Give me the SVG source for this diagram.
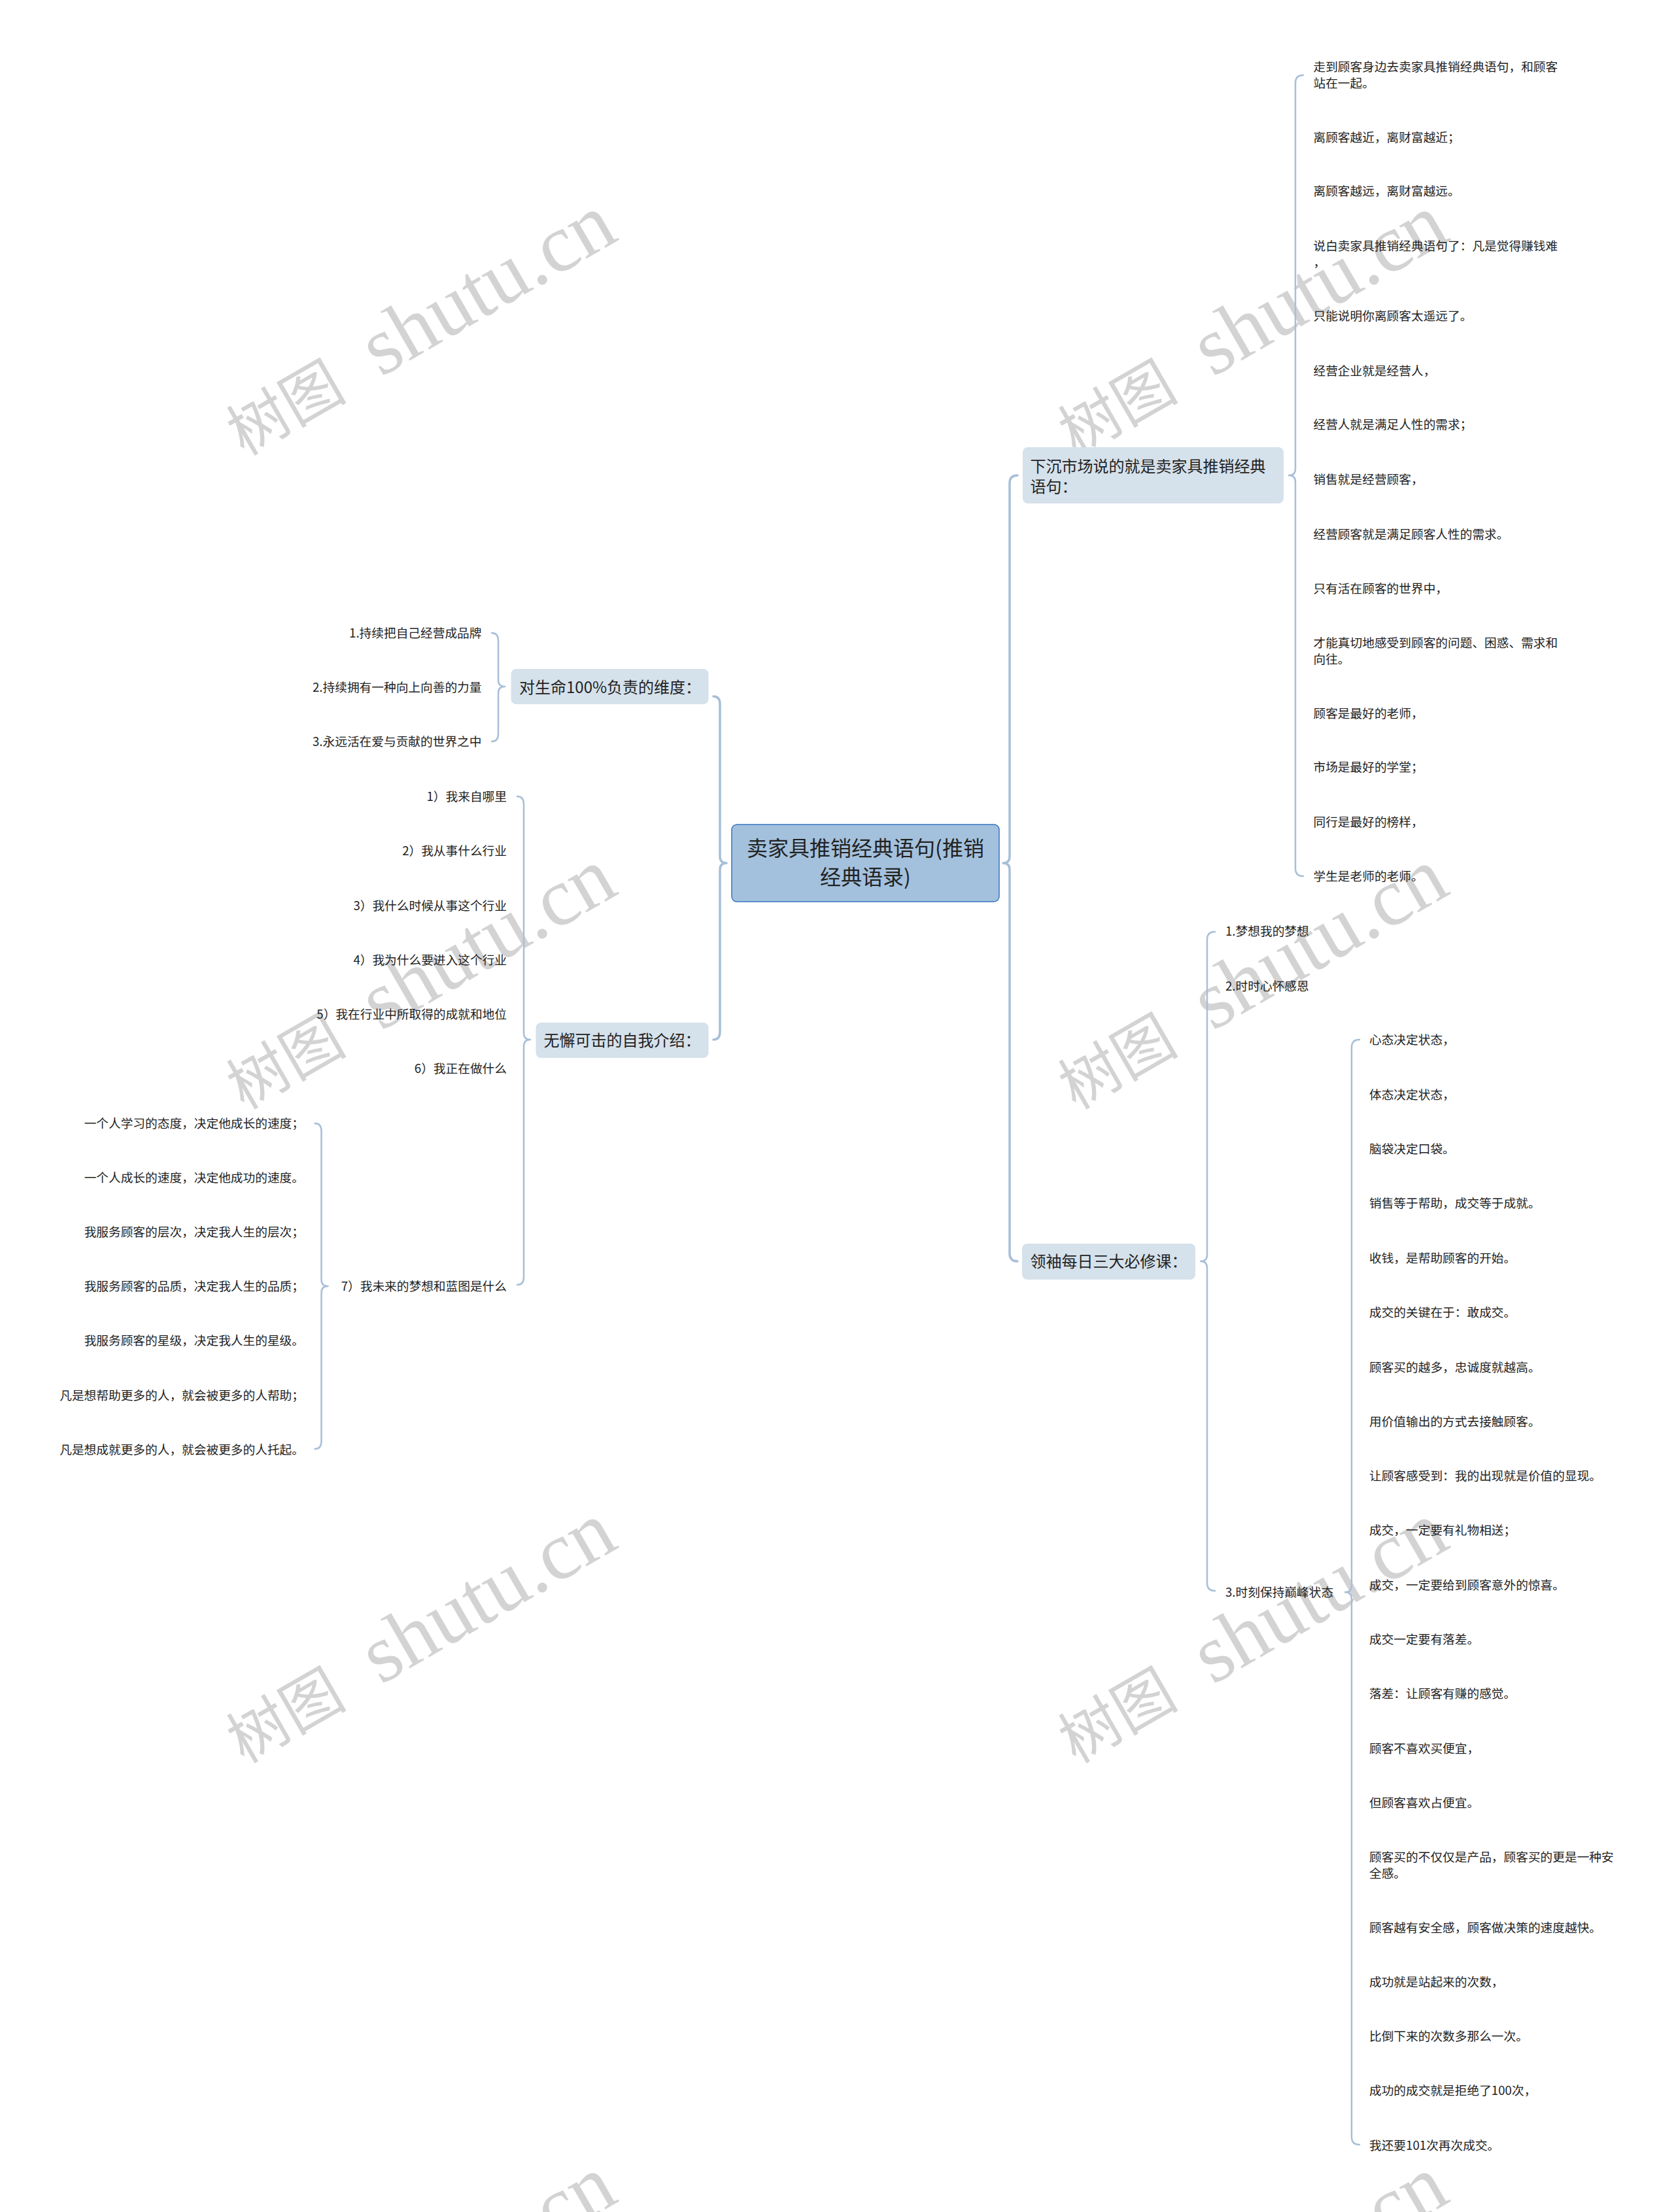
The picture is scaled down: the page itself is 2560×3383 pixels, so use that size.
<svg xmlns="http://www.w3.org/2000/svg" width="2560" height="3383" viewBox="0 0 2560 3383">
<style>
.wm { font-family: "Liberation Serif", "Noto Sans CJK SC", serif; fill: #d3d3d3; }
.t { font-family: "Noto Sans CJK SC", "Noto Sans", sans-serif; fill: #222222; }
.leaf { font-size: 18.7px; }
.main { font-size: 24px; }
.center { font-size: 32px; text-anchor: middle; }
.end { text-anchor: end; }
.conn { fill: none; stroke: #a7bfd8; stroke-linecap: round; stroke-linejoin: round; }
.c1 { stroke-width: 3.5; }
.c2 { stroke-width: 2.5; }
.box { fill: #d5e1eb; }
.cbox { fill: #a3c1dd; stroke: #3a74c0; stroke-width: 1.5; }
</style>
<rect width="2560" height="3383" fill="#ffffff"/>

<g id="watermark">
<text class="wm" transform="translate(373,698) rotate(-30)"><tspan font-size="92">树图</tspan><tspan font-size="126" dx="26"> shutu.cn</tspan></text>
<text class="wm" transform="translate(1645,698) rotate(-30)"><tspan font-size="92">树图</tspan><tspan font-size="126" dx="26"> shutu.cn</tspan></text>
<text class="wm" transform="translate(373,1698) rotate(-30)"><tspan font-size="92">树图</tspan><tspan font-size="126" dx="26"> shutu.cn</tspan></text>
<text class="wm" transform="translate(1645,1698) rotate(-30)"><tspan font-size="92">树图</tspan><tspan font-size="126" dx="26"> shutu.cn</tspan></text>
<text class="wm" transform="translate(373,2698) rotate(-30)"><tspan font-size="92">树图</tspan><tspan font-size="126" dx="26"> shutu.cn</tspan></text>
<text class="wm" transform="translate(1645,2698) rotate(-30)"><tspan font-size="92">树图</tspan><tspan font-size="126" dx="26"> shutu.cn</tspan></text>
<text class="wm" transform="translate(373,3698) rotate(-30)"><tspan font-size="92">树图</tspan><tspan font-size="126" dx="26"> shutu.cn</tspan></text>
<text class="wm" transform="translate(1645,3698) rotate(-30)"><tspan font-size="92">树图</tspan><tspan font-size="126" dx="26"> shutu.cn</tspan></text>
</g>

<g id="connectors">
<path class="conn c1" d="M1556,727 Q1544,727 1544,739 L1544,1310 Q1544,1320 1534,1320 Q1544,1320 1544,1330 L1544,1917 Q1544,1929 1556,1929"/>
<path class="conn c1" d="M1091,1065 Q1101,1065 1101,1077 L1101,1310 Q1101,1320 1111,1320 Q1101,1320 1101,1330 L1101,1578 Q1101,1590 1091,1590"/>
<path class="conn c2" d="M1993,115 Q1981,115 1981,127 L1981,717 Q1981,727 1971,727 Q1981,727 1981,737 L1981,1328 Q1981,1340 1993,1340"/>
<path class="conn c2" d="M1858,1425 Q1846,1425 1846,1437 L1846,1919 Q1846,1929 1836,1929 Q1846,1929 1846,1939 L1846,2421 Q1846,2433 1858,2433"/>
<path class="conn c2" d="M2079,1590 Q2067,1590 2067,1602 L2067,2425 Q2067,2435 2057,2435 Q2067,2435 2067,2445 L2067,3268 Q2067,3280 2079,3280"/>
<path class="conn c2" d="M752,968 Q762,968 762,980 L762,1040 Q762,1050 772,1050 Q762,1050 762,1060 L762,1122 Q762,1134 752,1134"/>
<path class="conn c2" d="M791,1218 Q801,1218 801,1230 L801,1580 Q801,1590 811,1590 Q801,1590 801,1600 L801,1953 Q801,1965 791,1965"/>
<path class="conn c2" d="M481.5,1718 Q491.5,1718 491.5,1730 L491.5,1957 Q491.5,1967 501.5,1967 Q491.5,1967 491.5,1977 L491.5,2204 Q491.5,2216 481.5,2216"/>
</g>

<g id="node-center">
<rect class="cbox" x="1119" y="1261" width="409" height="118" rx="8"/>
<text class="t center" x="1323.5" y="1309">卖家具推销经典语句(推销</text>
<text class="t center" x="1323.5" y="1353">经典语录)</text>
</g>

<g id="node-xiachen">
<rect class="box" x="1564" y="684" width="399" height="86" rx="8"/>
<text class="t main" x="1575.5" y="722">下沉市场说的就是卖家具推销经典</text>
<text class="t main" x="1575.5" y="753">语句：</text>
</g>
<g id="node-lingxiu">
<rect class="box" x="1563" y="1902" width="265" height="55" rx="8"/>
<text class="t main" x="1575.5" y="1938">领袖每日三大必修课：</text>
</g>
<g id="node-shengming">
<rect class="box" x="781.5" y="1023" width="302" height="54" rx="8"/>
<text class="t main" x="794" y="1059.5">对生命100%负责的维度：</text>
</g>
<g id="node-wuxie">
<rect class="box" x="819.5" y="1564" width="264" height="54" rx="8"/>
<text class="t main" x="831.5" y="1599.5">无懈可击的自我介绍：</text>
</g>

<g id="xiachen-leaves">
<g id="r1"><text class="t leaf" x="2008.5" y="109">走到顾客身边去卖家具推销经典语句，和顾客</text><text class="t leaf" x="2008.5" y="134">站在一起。</text></g>
<g id="r2"><text class="t leaf" x="2008.5" y="217">离顾客越近，离财富越近；</text></g>
<g id="r3"><text class="t leaf" x="2008.5" y="299">离顾客越远，离财富越远。</text></g>
<g id="r4"><text class="t leaf" x="2008.5" y="383">说白卖家具推销经典语句了：凡是觉得赚钱难</text><text class="t leaf" x="2008.5" y="408">，</text></g>
<g id="r5"><text class="t leaf" x="2008.5" y="490">只能说明你离顾客太遥远了。</text></g>
<g id="r6"><text class="t leaf" x="2008.5" y="574">经营企业就是经营人，</text></g>
<g id="r7"><text class="t leaf" x="2008.5" y="656">经营人就是满足人性的需求；</text></g>
<g id="r8"><text class="t leaf" x="2008.5" y="740">销售就是经营顾客，</text></g>
<g id="r9"><text class="t leaf" x="2008.5" y="824">经营顾客就是满足顾客人性的需求。</text></g>
<g id="r10"><text class="t leaf" x="2008.5" y="907">只有活在顾客的世界中，</text></g>
<g id="r11"><text class="t leaf" x="2008.5" y="990">才能真切地感受到顾客的问题、困惑、需求和</text><text class="t leaf" x="2008.5" y="1015">向往。</text></g>
<g id="r12"><text class="t leaf" x="2008.5" y="1098">顾客是最好的老师，</text></g>
<g id="r13"><text class="t leaf" x="2008.5" y="1180">市场是最好的学堂；</text></g>
<g id="r14"><text class="t leaf" x="2008.5" y="1264">同行是最好的榜样，</text></g>
<g id="r15"><text class="t leaf" x="2008.5" y="1347">学生是老师的老师。</text></g>
</g>

<g id="lingxiu-children">
<g id="l1"><text class="t leaf" x="1874" y="1431">1.梦想我的梦想</text></g>
<g id="l2"><text class="t leaf" x="1874" y="1515">2.时时心怀感恩</text></g>
<g id="l3"><text class="t leaf" x="1874" y="2442">3.时刻保持巅峰状态</text></g>
</g>

<g id="peak-leaves">
<g id="p1"><text class="t leaf" x="2094" y="1597">心态决定状态，</text></g>
<g id="p2"><text class="t leaf" x="2094" y="1681">体态决定状态，</text></g>
<g id="p3"><text class="t leaf" x="2094" y="1764">脑袋决定口袋。</text></g>
<g id="p4"><text class="t leaf" x="2094" y="1847">销售等于帮助，成交等于成就。</text></g>
<g id="p5"><text class="t leaf" x="2094" y="1931">收钱，是帮助顾客的开始。</text></g>
<g id="p6"><text class="t leaf" x="2094" y="2014">成交的关键在于：敢成交。</text></g>
<g id="p7"><text class="t leaf" x="2094" y="2098">顾客买的越多，忠诚度就越高。</text></g>
<g id="p8"><text class="t leaf" x="2094" y="2181">用价值输出的方式去接触顾客。</text></g>
<g id="p9"><text class="t leaf" x="2094" y="2264">让顾客感受到：我的出现就是价值的显现。</text></g>
<g id="p10"><text class="t leaf" x="2094" y="2347">成交，一定要有礼物相送；</text></g>
<g id="p11"><text class="t leaf" x="2094" y="2431">成交，一定要给到顾客意外的惊喜。</text></g>
<g id="p12"><text class="t leaf" x="2094" y="2514">成交一定要有落差。</text></g>
<g id="p13"><text class="t leaf" x="2094" y="2597">落差：让顾客有赚的感觉。</text></g>
<g id="p14"><text class="t leaf" x="2094" y="2681">顾客不喜欢买便宜，</text></g>
<g id="p15"><text class="t leaf" x="2094" y="2764">但顾客喜欢占便宜。</text></g>
<g id="p16"><text class="t leaf" x="2094" y="2847">顾客买的不仅仅是产品，顾客买的更是一种安</text><text class="t leaf" x="2094" y="2872">全感。</text></g>
<g id="p17"><text class="t leaf" x="2094" y="2955">顾客越有安全感，顾客做决策的速度越快。</text></g>
<g id="p18"><text class="t leaf" x="2094" y="3038">成功就是站起来的次数，</text></g>
<g id="p19"><text class="t leaf" x="2094" y="3121">比倒下来的次数多那么一次。</text></g>
<g id="p20"><text class="t leaf" x="2094" y="3204">成功的成交就是拒绝了100次，</text></g>
<g id="p21"><text class="t leaf" x="2094" y="3288">我还要101次再次成交。</text></g>
</g>

<g id="shengming-leaves">
<g id="s1"><text class="t leaf end" x="736.5" y="975">1.持续把自己经营成品牌</text></g>
<g id="s2"><text class="t leaf end" x="736.5" y="1058">2.持续拥有一种向上向善的力量</text></g>
<g id="s3"><text class="t leaf end" x="736.5" y="1141">3.永远活在爱与贡献的世界之中</text></g>
</g>

<g id="wuxie-children">
<g id="w1"><text class="t leaf end" x="775" y="1225">1）我来自哪里</text></g>
<g id="w2"><text class="t leaf end" x="775" y="1308">2）我从事什么行业</text></g>
<g id="w3"><text class="t leaf end" x="775" y="1392">3）我什么时候从事这个行业</text></g>
<g id="w4"><text class="t leaf end" x="775" y="1475">4）我为什么要进入这个行业</text></g>
<g id="w5"><text class="t leaf end" x="775" y="1558">5）我在行业中所取得的成就和地位</text></g>
<g id="w6"><text class="t leaf end" x="775" y="1641">6）我正在做什么</text></g>
<g id="w7"><text class="t leaf end" x="775" y="1974">7）我未来的梦想和蓝图是什么</text></g>
</g>

<g id="dream-leaves">
<g id="d1"><text class="t leaf end" x="465" y="1725">一个人学习的态度，决定他成长的速度；</text></g>
<g id="d2"><text class="t leaf end" x="465" y="1808">一个人成长的速度，决定他成功的速度。</text></g>
<g id="d3"><text class="t leaf end" x="465" y="1891">我服务顾客的层次，决定我人生的层次；</text></g>
<g id="d4"><text class="t leaf end" x="465" y="1974">我服务顾客的品质，决定我人生的品质；</text></g>
<g id="d5"><text class="t leaf end" x="465" y="2057">我服务顾客的星级，决定我人生的星级。</text></g>
<g id="d6"><text class="t leaf end" x="465" y="2141">凡是想帮助更多的人，就会被更多的人帮助；</text></g>
<g id="d7"><text class="t leaf end" x="465" y="2224">凡是想成就更多的人，就会被更多的人托起。</text></g>
</g>
</svg>
